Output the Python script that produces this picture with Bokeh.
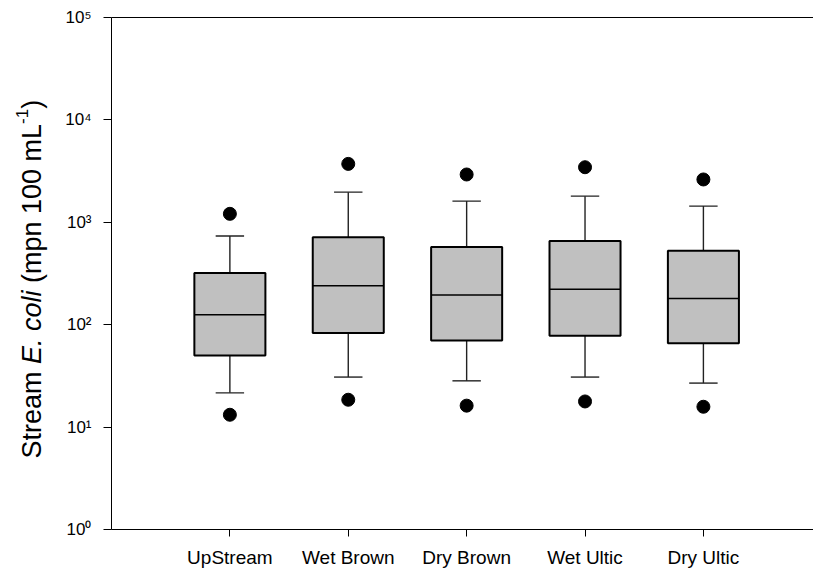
import math

from bokeh.embed import file_html
from bokeh.layouts import row
from bokeh.models import FixedTicker, Label, LinearAxis, Range1d
from bokeh.plotting import figure
from bokeh.resources import INLINE

# Stream E. coli counts by site (mpn per 100 mL)
categories = ["UpStream", "Wet Brown", "Dry Brown", "Wet Ultic", "Dry Ultic"]
q1 = [50, 83, 70, 78, 66]
median = [125, 240, 195, 222, 180]
q3 = [320, 713, 573, 656, 528]
whisker_lo = [21.6, 30.8, 28.3, 30.8, 26.9]
whisker_hi = [734, 1970, 1610, 1800, 1440]
outlier_lo = [13.2, 18.5, 16.2, 17.8, 15.8]
outlier_hi = [1210, 3720, 2930, 3450, 2620]

y_ticks = [1, 10, 100, 1000, 10000, 100000]
y_tick_labels = ["10⁰", "10¹", "10²", "10³", "10⁴", "10⁵"]

FONT = "Liberation Sans"
TITLE_W = 60
BORDER_TOP, BORDER_BOTTOM = 17, 43
positions = list(range(1, len(categories) + 1))
box_w = 0.6
cap_w = 0.24

p = figure(
    width=813 - TITLE_W, height=572,
    y_axis_type="log",
    x_range=Range1d(0, 5.93), y_range=Range1d(1, 1e5),
    output_backend="svg", toolbar_location=None,
    min_border_left=111 - TITLE_W, min_border_right=0,
    min_border_top=BORDER_TOP, min_border_bottom=BORDER_BOTTOM,
)
p.grid.visible = False
p.outline_line_color = None

# y axis: decades only, outward ticks
p.yaxis.ticker = FixedTicker(ticks=y_ticks)
p.yaxis.major_label_overrides = {t: lab for t, lab in zip(y_ticks, y_tick_labels)}
p.yaxis.minor_tick_line_color = None
p.yaxis.major_tick_in = 0
p.yaxis.major_tick_out = 8
p.yaxis.major_label_standoff = 12
p.yaxis.major_label_text_font = FONT
p.yaxis.major_label_text_font_size = "17px"
p.yaxis.major_label_text_color = "black"
p.yaxis.axis_line_color = "black"
p.yaxis.major_tick_line_color = "black"

# x axis: site names
p.xaxis.ticker = FixedTicker(ticks=positions)
p.xaxis.major_label_overrides = {x: c for x, c in zip(positions, categories)}
p.xaxis.minor_tick_line_color = None
p.xaxis.major_tick_in = 0
p.xaxis.major_tick_out = 7
p.xaxis.major_label_standoff = 10
p.xaxis.major_label_text_font = FONT
p.xaxis.major_label_text_font_size = "19px"
p.xaxis.major_label_text_color = "black"
p.xaxis.axis_line_color = "black"
p.xaxis.major_tick_line_color = "black"

# plain rule along the top of the plot area
top = LinearAxis(ticker=FixedTicker(ticks=[]), major_label_text_font_size="0px",
                 minor_tick_line_color=None, major_tick_line_color=None,
                 axis_line_color="black")
p.add_layout(top, "above")

# whiskers and caps
p.segment(x0=positions, y0=q3, x1=positions, y1=whisker_hi, line_color="#222222", line_width=1.4)
p.segment(x0=positions, y0=q1, x1=positions, y1=whisker_lo, line_color="#222222", line_width=1.4)
p.segment(x0=[x - cap_w / 2 for x in positions], y0=whisker_hi,
          x1=[x + cap_w / 2 for x in positions], y1=whisker_hi, line_color="#222222", line_width=1.4)
p.segment(x0=[x - cap_w / 2 for x in positions], y0=whisker_lo,
          x1=[x + cap_w / 2 for x in positions], y1=whisker_lo, line_color="#222222", line_width=1.4)

# boxes and medians
p.vbar(x=positions, width=box_w, bottom=q1, top=q3,
       fill_color="#c0c0c0", line_color="black", line_width=2)
p.segment(x0=[x - box_w / 2 for x in positions], y0=median,
          x1=[x + box_w / 2 for x in positions], y1=median, line_color="black", line_width=1.5)

# outliers
p.scatter(x=positions, y=outlier_hi, size=13, color="black")
p.scatter(x=positions, y=outlier_lo, size=13, color="black")

# narrow panel holding the rotated y-axis title (italic species name, superscript unit);
# its frame lines up with the main plot frame, ranges are in pixels
frame_h = 572 - BORDER_TOP - BORDER_BOTTOM
t = figure(width=TITLE_W, height=572,
           x_range=Range1d(0, TITLE_W), y_range=Range1d(0, frame_h),
           x_axis_location=None, y_axis_location=None,
           output_backend="svg", toolbar_location=None,
           min_border_left=0, min_border_right=0,
           min_border_top=BORDER_TOP, min_border_bottom=BORDER_BOTTOM)
t.grid.visible = False
t.outline_line_color = None

ADV = {" ": 278, "S": 667, "t": 278, "r": 333, "e": 556, "a": 556, "m": 833, "E": 667,
       ".": 278, "c": 500, "o": 556, "l": 222, "i": 222, "(": 333, ")": 333, "p": 556,
       "n": 556, "1": 556, "0": 556, "L": 556, "-": 333}


def advance(text, size):
    return sum(ADV[ch] for ch in text) * size / 1000.0


TITLE_SIZE = 27
pieces = [
    ("Stream ", "normal", TITLE_SIZE, 0),
    ("E. coli ", "italic", TITLE_SIZE, 0),
    ("(mpn 100 mL", "normal", TITLE_SIZE, 0),
    ("-1", "normal", 17, -10),
    (")", "normal", TITLE_SIZE, 0),
]
run = 71.0
for text, style, size, raise_px in pieces:
    t.add_layout(Label(
        x=31 + raise_px, y=run,
        angle=math.pi / 2, text=text.strip(),
        text_font=FONT, text_font_size=f"{size}px", text_font_style=style,
        text_align="left", text_baseline="middle", text_color="black",
    ))
    run += advance(text, size)

layout = row(t, p)
open("out.html", "w").write(file_html(layout, INLINE))
